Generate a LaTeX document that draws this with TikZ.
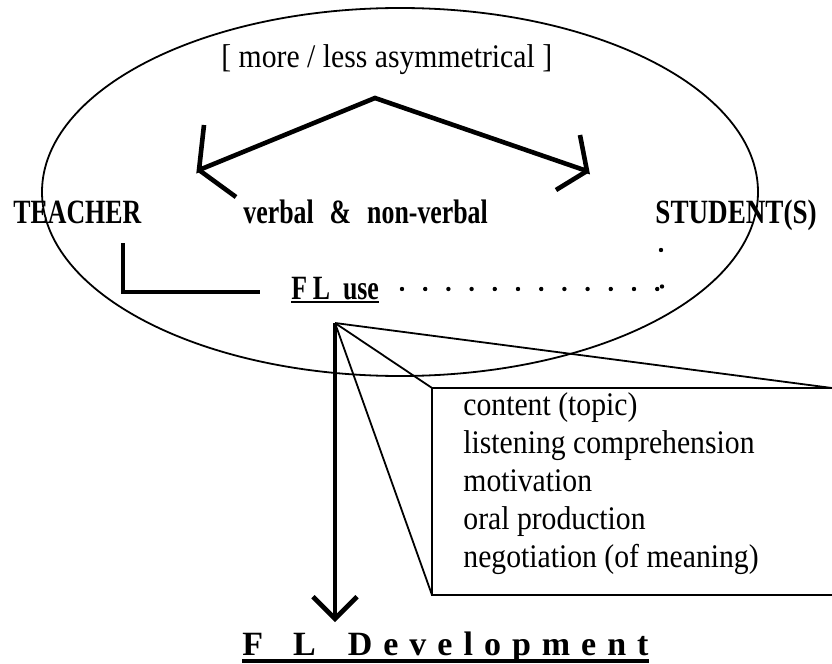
\documentclass[tikz,border=0pt]{standalone}
\usepackage{fontspec}
\setmainfont{Liberation Serif}
\newfontfamily\narrowbold{Liberation Serif Bold}[FakeStretch=0.76]
\newfontfamily\narrowplain{Liberation Serif}[FakeStretch=0.9]
\usetikzlibrary{arrows.meta}
\newcommand{\lgap}{\hspace{5.5pt}}

\tikzset{
  thinline/.style={line width=0.9pt},
  boxline/.style={line width=1.1pt},
  thickline/.style={line width=2.3pt},
  capsfont/.style={font=\narrowbold\fontsize{17}{20}\selectfont},
  plainfont/.style={font=\narrowplain\fontsize{16.5}{19}\selectfont},
  word/.style={inner sep=0pt, anchor=base west},
}

\begin{document}
\begin{tikzpicture}[x=0.5pt,y=-0.5pt]
\useasboundingbox (0,0) rectangle (832,664);
% interaction ellipse
\draw[thinline] (400,192) ellipse [x radius=179pt, y radius=92pt];
\node[word,plainfont] (asym) at (221,68) {[ more / less asymmetrical ]};
\node[word,capsfont] (teacher) at (13,223) {TEACHER};
\node[word,capsfont] (verbal) at (243,223) {verbal\hspace{8pt}\&\hspace{8pt}non-verbal};
\node[word,capsfont,xscale=1.05] (student) at (655,223) {STUDENT(S)};
\node[word,capsfont] (fluse) at (291,299) {F\,L\ \ use};
\draw[line width=1pt] ([yshift=-1.4pt]fluse.base west) -- ([yshift=-1.4pt]fluse.base east);

% chevron
\coordinate (top) at (375,98);
\coordinate (lcorner) at (199,170);
\coordinate (ltick) at (204,125);
\coordinate (ltail) at (236,197);
\coordinate (rcorner) at (587,171);
\coordinate (rtick) at (580,135);
\coordinate (rtail) at (556,190);
\draw[thickline] (ltick) -- (lcorner) -- (top) -- (rcorner) -- (rtick);
\draw[thickline] (lcorner) -- (ltail);
\draw[thickline] (rcorner) -- (rtail);

% teacher side
\coordinate (lstart) at (123,243);
\coordinate (lbend) at (123,292);
\coordinate (lend) at (260,292);
\draw[thickline] (lstart) -- (lbend) -- (lend);

% student side
\foreach \k in {0,...,11}
  \fill (402+23.2*\k,289) circle (1.1pt);
\fill (662,286.5) circle (1.1pt);
\fill (661,250) circle (1.1pt);

% fan and box
\coordinate (fan) at (335,323);
\coordinate (boxtl) at (432,388);
\coordinate (boxtr) at (832,388);
\coordinate (boxbl) at (432,595);
\coordinate (boxbr) at (832,595);
\draw[boxline] (boxtr) -- (boxtl) -- (boxbl) -- (boxbr);
\draw[thinline] (fan) -- (boxtr);
\draw[thinline] (fan) -- (boxtl);
\draw[thinline] (fan) -- (boxbl);
\foreach \txt [count=\i] in {content (topic), listening comprehension, motivation, oral production, negotiation (of meaning)}
  \node[word,plainfont] (item\i) at (463,{415+38*(\i-1)}) {\txt};

% development
\coordinate (devtip) at (335,622);
\draw[thickline,-{Straight Barb[length=11pt,width=22pt]}] (fan) -- (devtip);
\node[word,font=\bfseries\fontsize{17}{20}\selectfont] (dev) at (242,655)
  {F\hspace{15pt}L\hspace{16pt}D\lgap e\lgap v\lgap e\lgap l\lgap o\lgap p\lgap m\lgap e\lgap n\lgap t};
\draw[line width=1.6pt] ([yshift=-3pt]dev.base west) -- ([yshift=-3pt]dev.base east);
\end{tikzpicture}
\end{document}
